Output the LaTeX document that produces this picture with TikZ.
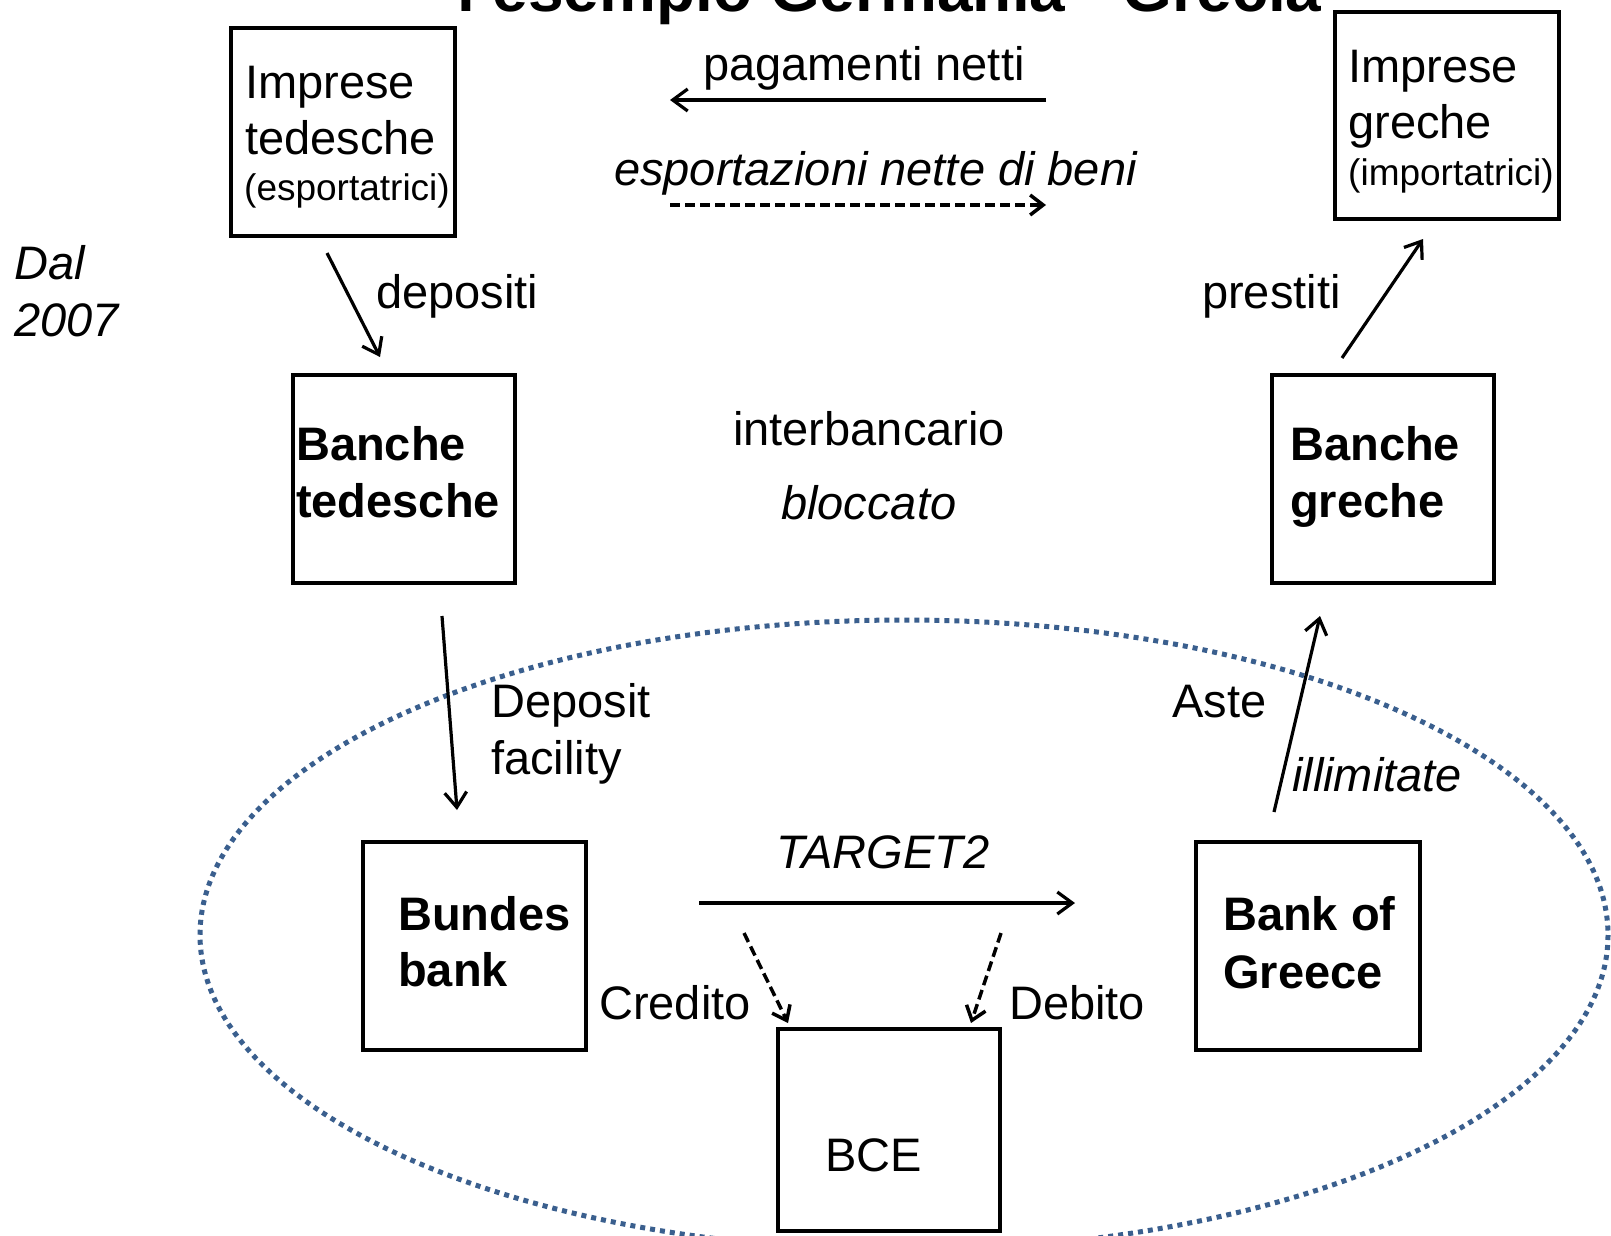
\documentclass[tikz,border=0pt]{standalone}
\usepackage{fontspec}
\setmainfont{Liberation Sans}
\usetikzlibrary{arrows.meta}
\definecolor{ecb}{HTML}{3A5F8E}
\begin{document}
\begin{tikzpicture}[x=1pt,y=-1pt,
  box/.style={draw, line width=4.5pt, inner sep=0pt, fill=white},
  txt/.style={inner sep=0pt, anchor=base west, font=\fontsize{47}{56}\selectfont},
  smalltxt/.style={inner sep=0pt, anchor=base west, font=\fontsize{37}{44}\selectfont},
  bigtxt/.style={inner sep=0pt, anchor=base west, font=\bfseries\fontsize{47}{56}\selectfont},
  ittxt/.style={inner sep=0pt, anchor=base west, font=\itshape\fontsize{47}{56}\selectfont},
  arr/.style={line width=3.2pt, -{Straight Barb[length=15pt,width=22pt]}},
  darr/.style={line width=3.5pt, dash pattern=on 10pt off 5pt, -{Straight Barb[length=13pt,width=20pt]}}]
\useasboundingbox (0,0) rectangle (1611,1235);
\clip (0,0) rectangle (1611,1235);
\fill[white] (0,0) rectangle (1611,1235);

% Eurosystem ellipse
\draw[ecb, line width=5pt, dash pattern=on 5pt off 5pt] (904,935) ellipse [x radius=704, y radius=315];

% title (cut at top)
\node[inner sep=0pt, anchor=base west, font=\bfseries\fontsize{64}{70}\selectfont] (title) at (457,11.5) {l'esempio Germania - Grecia};

% boxes
\node[box, minimum width=224, minimum height=208] (it) at (343,132) {};
\node[box, minimum width=224, minimum height=207] (ig) at (1447,115.5) {};
\node[box, minimum width=222, minimum height=208] (bt) at (404,479) {};
\node[box, minimum width=222, minimum height=208] (bg) at (1383,479) {};
\node[box, minimum width=223, minimum height=208] (bb) at (474.5,946) {};
\node[box, minimum width=224, minimum height=208] (bog) at (1308,946) {};
\node[box, minimum width=222, minimum height=202] (bce) at (889,1130) {};

% box texts
\node[txt] (it1) at (245,98) {Imprese};
\node[txt] (it2) at (245,154) {tedesche};
\node[smalltxt] (it3) at (244,200) {(esportatrici)};
\node[txt] (ig1) at (1348,82) {Imprese};
\node[txt] (ig2) at (1348,138) {greche};
\node[smalltxt] (ig3) at (1348,185) {(importatrici)};
\node[bigtxt] (bt1) at (296,460) {Banche};
\node[bigtxt] (bt2) at (296,517) {tedesche};
\node[bigtxt] (bg1) at (1290,460) {Banche};
\node[bigtxt] (bg2) at (1290,517) {greche};
\node[bigtxt] (bb1) at (398,930) {Bundes};
\node[bigtxt] (bb2) at (398,986) {bank};
\node[bigtxt] (bog1) at (1223,930) {Bank of};
\node[bigtxt] (bog2) at (1223,988) {Greece};
\node[txt] (bcet) at (825,1171) {BCE};

% free labels
\node[txt] (pag) at (703,80) {pagamenti netti};
\node[ittxt] (esp) at (614,185) {esportazioni nette di beni};
\node[ittxt] (dal1) at (14,279) {Dal};
\node[ittxt] (dal2) at (14,336) {2007};
\node[txt] (dep) at (376,308) {depositi};
\node[txt] (pre) at (1202,308) {prestiti};
\node[txt] (inter) at (733,445) {interbancario};
\node[ittxt] (bloc) at (781,519) {bloccato};
\node[txt] (df1) at (491,717) {Deposit};
\node[txt] (df2) at (491,774) {facility};
\node[txt] (aste) at (1172,717) {Aste};
\node[ittxt] (ill) at (1292,791) {illimitate};
\node[ittxt] (tg) at (776,868) {TARGET2};
\node[txt] (cred) at (599,1019) {Credito};
\node[txt] (deb) at (1009,1019) {Debito};

% arrow end points
\coordinate (pagS) at (1046,100);
\coordinate (pagE) at (670,100);
\coordinate (espS) at (670,205);
\coordinate (espE) at (1046,205);
\coordinate (depS) at (327,253);
\coordinate (depE) at (380,357);
\coordinate (preS) at (1342,358);
\coordinate (preE) at (1423,239);
\coordinate (dfS) at (442,616);
\coordinate (dfE) at (457,810);
\coordinate (asS) at (1274,812);
\coordinate (asE) at (1320,616);
\coordinate (tgS) at (699,903);
\coordinate (tgE) at (1075,903);
\coordinate (crS) at (744,933);
\coordinate (crE) at (788,1023);
\coordinate (dbS) at (1001,933);
\coordinate (dbE) at (971,1023);

% arrows
\draw[arr] (pagS) -- (pagE);
\draw[darr] (espS) -- (espE);
\draw[arr] (depS) -- (depE);
\draw[arr] (preS) -- (preE);
\draw[arr] (dfS) -- (dfE);
\draw[arr] (asS) -- (asE);
\draw[arr] (tgS) -- (tgE);
\draw[darr] (crS) -- (crE);
\draw[darr] (dbS) -- (dbE);
\end{tikzpicture}
\end{document}
